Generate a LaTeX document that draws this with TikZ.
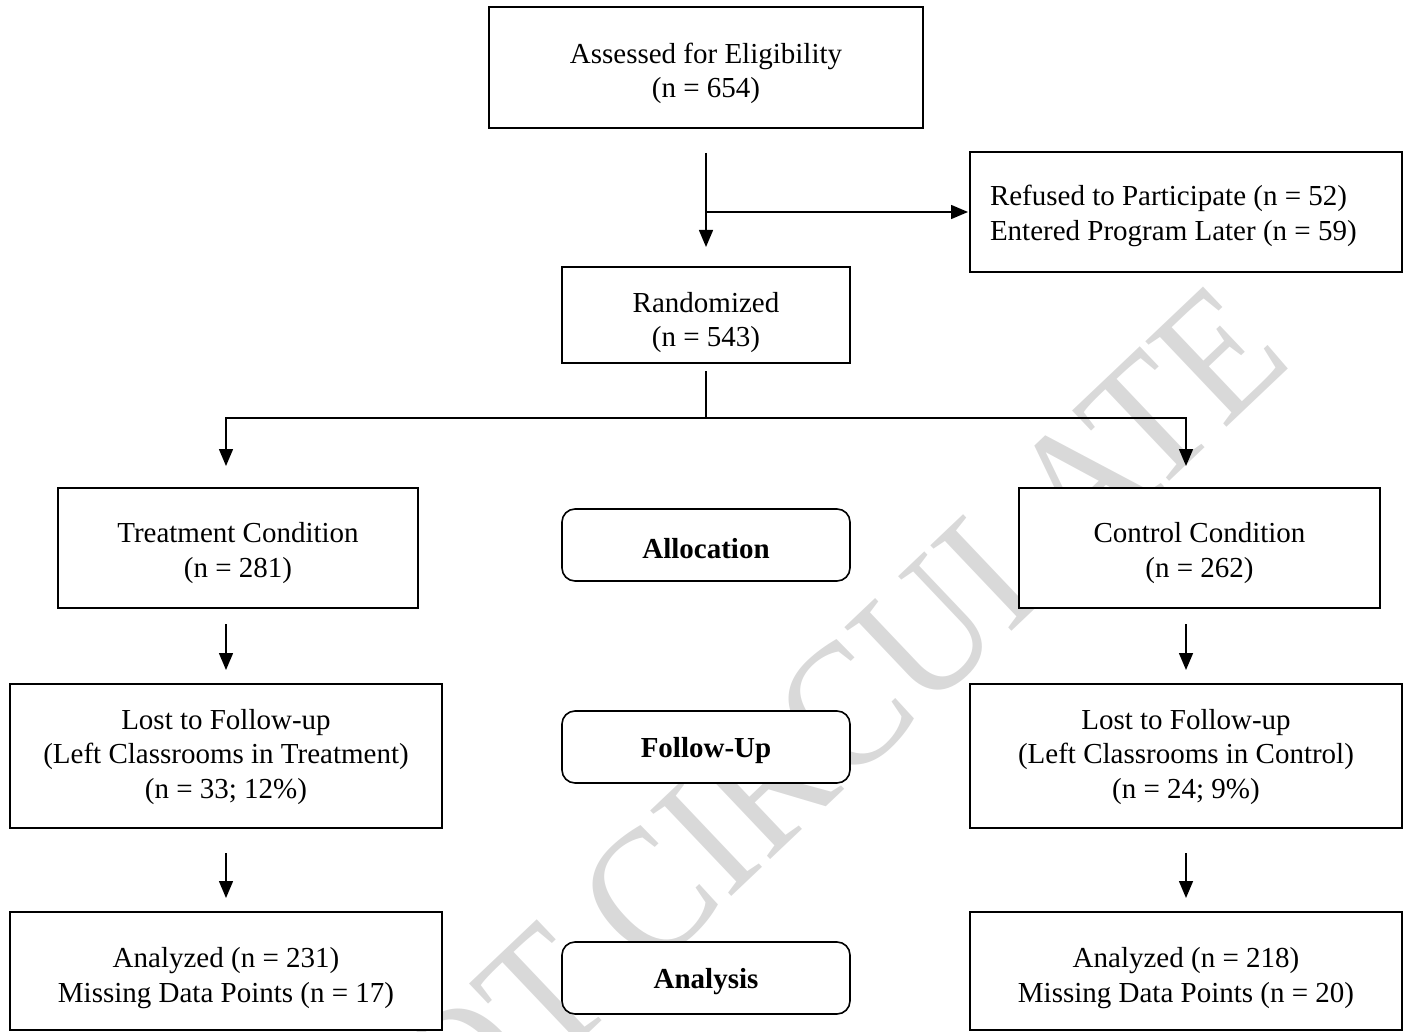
\documentclass[tikz,border=0pt]{standalone}
\usepackage{fontspec}
\setmainfont{Liberation Serif}
\usetikzlibrary{arrows.meta}
\newcommand{\firstline}[1]{\rule{0pt}{#1pt}}
\begin{document}
\begin{tikzpicture}[x=1pt,y=-1pt,
  box/.style={draw, line width=2pt, fill=white, align=center, inner sep=0pt,
    font=\fontsize{29pt}{34.5pt}\selectfont},
  phase/.style={draw, line width=1.6pt, fill=white, rounded corners=13pt, align=center,
    inner sep=0pt, minimum width=288pt, minimum height=72pt,
    font=\fontsize{29pt}{34.5pt}\selectfont\bfseries},
  conn/.style={line width=1.5pt},
  arr/.style={conn, -{Triangle[length=17pt,width=14pt]}},
  wmark/.style={text=black!15, rotate=43.5, xscale=0.9, inner sep=0pt,
    font=\fontsize{180pt}{185pt}\selectfont}
]
\useasboundingbox (0,0) rectangle (1408,1032);

% watermark
\begin{scope}
  \clip (0,0) rectangle (1408,1032);
  \node[wmark] (wm) at (697,849) {DO NOT CIRCULATE};
\end{scope}

% boxes
\node[box, minimum width=434pt, minimum height=121pt] (elig) at (706,67.5)
  {\firstline{32}Assessed for Eligibility\\(n = 654)};
\node[box, minimum width=288pt, minimum height=96pt] (rand) at (706,315)
  {\firstline{35}Randomized\\(n = 543)};
\node[box, minimum width=432pt, minimum height=120pt, text width=392pt, align=flush left,
  inner xsep=20pt] (ref) at (1186,212)
  {\firstline{28}Refused to Participate (n = 52)\\Entered Program Later (n = 59)};
\node[box, minimum width=360pt, minimum height=120pt] (treat) at (238,548)
  {\firstline{30}Treatment Condition\\(n = 281)};
\node[box, minimum width=361pt, minimum height=120pt] (ctrl) at (1199.5,548)
  {\firstline{30}Control Condition\\(n = 262)};
\node[box, minimum width=432pt, minimum height=144pt] (lostT) at (226,756)
  {\firstline{22}Lost to Follow-up\\(Left Classrooms in Treatment)\\(n = 33; 12\%)};
\node[box, minimum width=432pt, minimum height=144pt] (lostC) at (1186,756)
  {\firstline{22}Lost to Follow-up\\(Left Classrooms in Control)\\(n = 24; 9\%)};
\node[box, minimum width=432pt, minimum height=118pt] (anaT) at (226,971)
  {\firstline{34}Analyzed (n = 231)\\Missing Data Points (n = 17)};
\node[box, minimum width=432pt, minimum height=118pt] (anaC) at (1186,971)
  {\firstline{34}Analyzed (n = 218)\\Missing Data Points (n = 20)};

% phase labels
\node[phase] (alloc) at (706,545) {\firstline{28}Allocation};
\node[phase] (fu) at (706,747) {\firstline{28}Follow-Up};
\node[phase] (ana) at (706,978) {\firstline{28}Analysis};

% connectors
\coordinate (j1) at (706,212);
\coordinate (sp) at (706,418);
\draw[arr, shorten <=24pt, shorten >=19pt] (elig.south) -- (rand.north);
\draw[arr, shorten >=1pt] (j1) -- (ref.west);
\draw[conn, shorten <=7pt] (rand.south) -- (sp);
\draw[arr, shorten >=21pt] (sp) -| (treat.north -| lostT.north);
\draw[arr, shorten >=21pt] (sp) -| (ctrl.north -| lostC.north);
\draw[arr, shorten <=15pt, shorten >=13pt] (treat.south -| lostT.north) -- (lostT.north);
\draw[arr, shorten <=15pt, shorten >=13pt] (ctrl.south -| lostC.north) -- (lostC.north);
\draw[arr, shorten <=24pt, shorten >=13pt] (lostT.south) -- (anaT.north);
\draw[arr, shorten <=24pt, shorten >=13pt] (lostC.south) -- (anaC.north);
\end{tikzpicture}
\end{document}
